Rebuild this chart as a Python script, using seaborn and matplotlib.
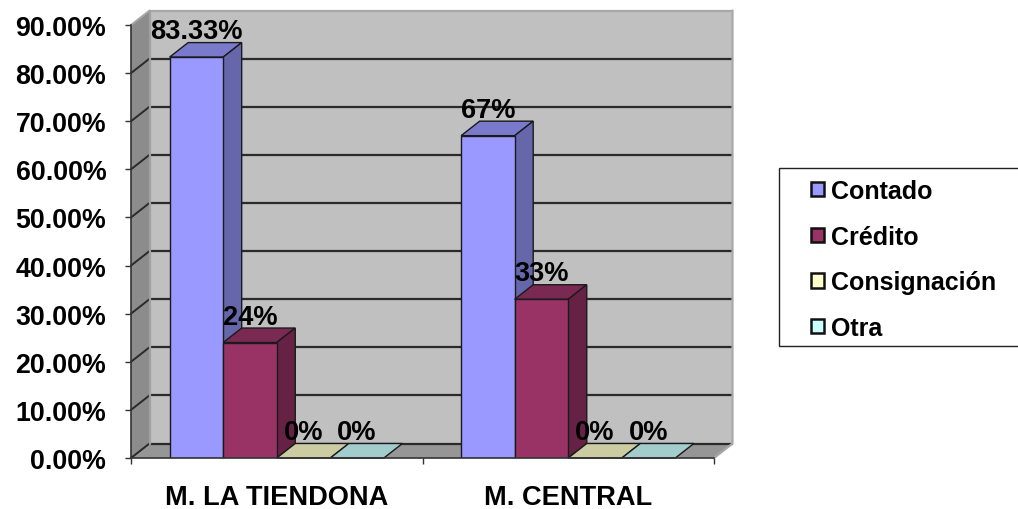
import matplotlib
matplotlib.use("Agg")
import matplotlib.pyplot as plt
from matplotlib.patches import Polygon, Rectangle
import pandas as pd
import seaborn as sns

markets = ["M. LA TIENDONA", "M. CENTRAL"]
payment_types = ["Contado", "Crédito", "Consignación", "Otra"]
contado = [83.33, 67]
credito = [24, 33]
consignacion = [0, 0]
otra = [0, 0]
value_labels = [["83.33%", "67%"], ["24%", "33%"], ["0%", "0%"], ["0%", "0%"]]
y_ticks = [0, 10, 20, 30, 40, 50, 60, 70, 80, 90]
y_tick_labels = ["0.00%", "10.00%", "20.00%", "30.00%", "40.00%",
                 "50.00%", "60.00%", "70.00%", "80.00%", "90.00%"]

front_colors = ["#9999ff", "#993366", "#ffffcc", "#ccffff"]
top_colors = ["#7a7acc", "#7a2952", "#cccca3", "#a3cccc"]
side_colors = ["#6666aa", "#662244", "#aaaa88", "#88aaaa"]

df = pd.DataFrame({
    "market": markets * 4,
    "payment": [p for p in payment_types for _ in markets],
    "share": contado + credito + consignacion + otra,
})

W, H = 1018, 510
sns.set_theme(style="white")
plt.rcParams["font.family"] = ["Liberation Sans", "DejaVu Sans"]
plt.rcParams["font.weight"] = "bold"

fig = plt.figure(figsize=(W / 100, H / 100), dpi=100, facecolor="white")
ax = fig.add_axes([131 / W, 1 - 459 / H, (714 - 131) / W, (459 - 26) / H])
ax.patch.set_visible(False)

sns.barplot(data=df, x="market", y="share", hue="payment", order=markets,
            hue_order=payment_types, palette=front_colors, width=0.735,
            saturation=1, edgecolor="#1a1a1a", linewidth=1.0, ax=ax, zorder=20)
ax.set_xlim(-0.5, 1.5)
ax.set_ylim(0, 90)

# Oblique offset used for the pseudo-3D depth, in data units
dx = 18.5 / 291.5
dy = 14.5 / (433 / 90)
x0, x1 = -0.5, 1.5

# Chart walls and floor
wall = dict(clip_on=False, edgecolor="none")
ax.add_patch(Polygon([(x0 + dx, dy), (x1 + dx, dy), (x1 + dx, 90 + dy), (x0 + dx, 90 + dy)],
                     facecolor="#c0c0c0", zorder=1, **wall))
ax.add_patch(Polygon([(x0, 0), (x0 + dx, dy), (x0 + dx, 90 + dy), (x0, 90)],
                     facecolor="#8c8c8c", zorder=1, **wall))
ax.add_patch(Polygon([(x0, 0), (x1, 0), (x1 + dx, dy), (x0 + dx, dy)],
                     facecolor="#969696", zorder=1, **wall))

# Gridlines run along the left wall and the back wall
for v in y_ticks:
    color = "#a8a8a8" if v == 90 else "#2a2a2a"
    ax.plot([x0 + dx, x1 + dx], [v + dy, v + dy], color=color, lw=1.6,
            clip_on=False, zorder=2, solid_capstyle="butt")
    ax.plot([x0, x0 + dx], [v, v + dy], color=color, lw=1.4, clip_on=False, zorder=2)
ax.plot([x1, x1 + dx, x1 + dx], [0, dy, 90 + dy], color="#a8a8a8", lw=1.6,
        clip_on=False, zorder=3)
ax.plot([x0 + dx, x0 + dx], [dy, 90 + dy], color="#a0a0a0", lw=1.6, clip_on=False, zorder=3)

# Top and side faces, then value labels, for every bar
for s, container in enumerate(ax.containers):
    for m, bar in enumerate(container):
        left, width, h = bar.get_x(), bar.get_width(), bar.get_height()
        right = left + width
        ax.add_patch(Polygon([(left, h), (right, h), (right + dx, h + dy), (left + dx, h + dy)],
                             facecolor=top_colors[s], edgecolor="#1a1a1a", lw=1.0,
                             clip_on=False, zorder=10 + s))
        if h > 0:
            ax.add_patch(Polygon([(right, 0), (right + dx, dy), (right + dx, h + dy), (right, h)],
                                 facecolor=side_colors[s], edgecolor="#1a1a1a", lw=1.0,
                                 clip_on=False, zorder=10 + s))
        bar.set_zorder(11 + s)
        ax.annotate(value_labels[s][m], (left + width / 2, h), xytext=(0, 18.6),
                    textcoords="offset points", ha="center", va="center",
                    fontsize=19.6, fontweight="bold", color="black",
                    annotation_clip=False, zorder=40)

# Axes: tick marks at category boundaries, labels centred on each category
sns.despine(ax=ax, top=True, right=True)
for side in ("left", "bottom"):
    ax.spines[side].set_color("#333333")
    ax.spines[side].set_linewidth(1.2)
    ax.spines[side].set_zorder(30)
ax.set_xlabel("")
ax.set_ylabel("")
ax.set_yticks(y_ticks, y_tick_labels, fontsize=19.3, fontweight="bold", color="black")
ax.set_xticks([-0.5, 0.5, 1.5], ["", "", ""])
ax.set_xticks([0, 1], markets, minor=True, fontsize=19.6, fontweight="bold", color="black")
ax.tick_params(axis="y", which="major", left=True, length=4.5, width=1, color="#333333", pad=13.3)
ax.tick_params(axis="x", which="major", bottom=True, length=4.5, width=1, color="#333333")
ax.tick_params(axis="x", which="minor", bottom=False, length=0, pad=18.5)

# Legend panel reaching the right edge of the figure
fig.add_artist(Rectangle((779 / W, 1 - 347 / H), 240 / W, 178 / H, transform=fig.transFigure,
                         facecolor="white", edgecolor="#222222", lw=1.0, zorder=0))
sns.move_legend(ax, loc="center left", bbox_to_anchor=(811 / W, 1 - 260.5 / H),
                bbox_transform=fig.transFigure, title=None, frameon=False, fontsize=18,
                handlelength=0.5, handleheight=0.5, handletextpad=0.3,
                labelspacing=0.87, borderpad=0, borderaxespad=0)
legend = ax.get_legend()
legend.set_zorder(50)
for handle in legend.get_patches():
    handle.set_edgecolor("#111111")
    handle.set_linewidth(1.8)
for text in legend.get_texts():
    text.set_fontweight("bold")
    text.set_color("black")

fig.savefig("out.png", dpi=100)
